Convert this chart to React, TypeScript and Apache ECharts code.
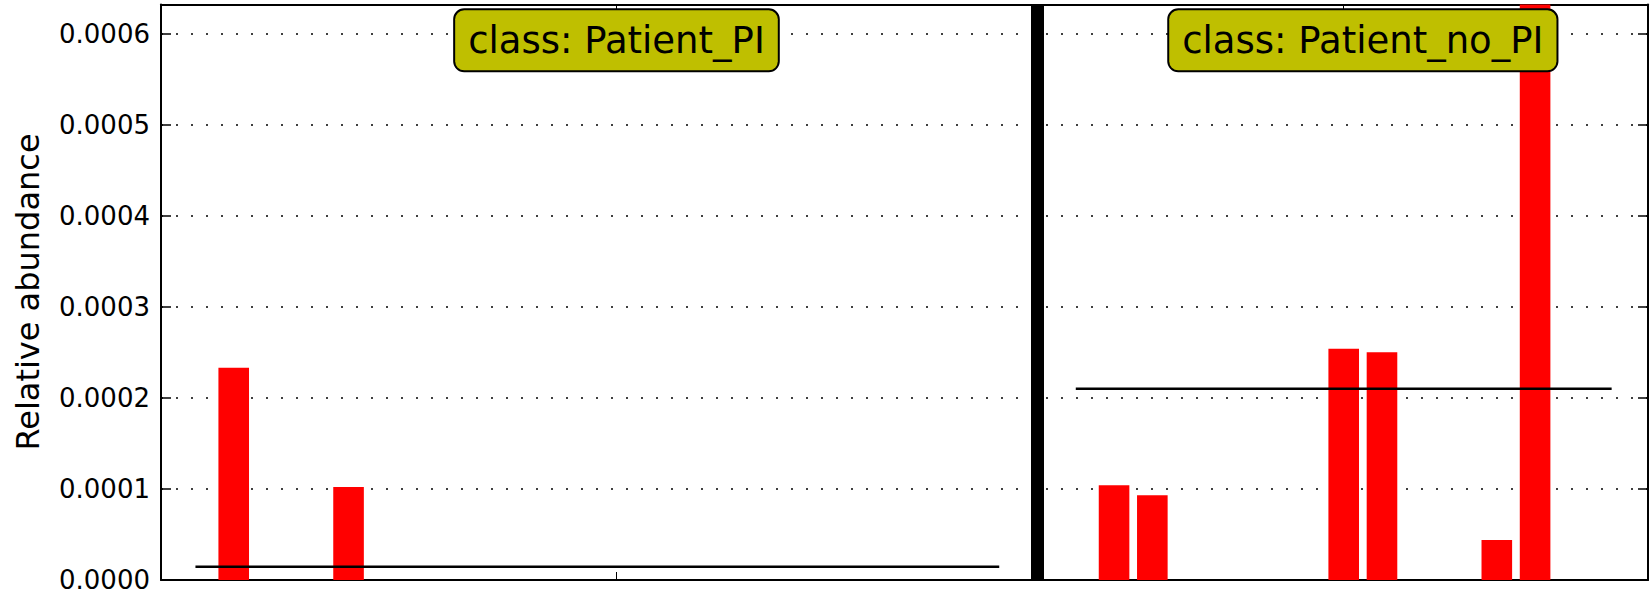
import React, { useEffect, useRef } from "react";
import * as echarts from "echarts";

// ---- data ----
const classNames = ["Patient_PI", "Patient_no_PI"];
// relative abundance per sample, class Patient_PI (22 samples)
const patientPI = [
  0, 0.000233, 0, 0, 0.000102, 0, 0, 0, 0, 0, 0,
  0, 0, 0, 0, 0, 0, 0, 0, 0, 0, 0,
];
// relative abundance per sample, class Patient_no_PI (15 samples)
const patientNoPI = [
  0, 0.000104, 0.000093, 0, 0, 0, 0, 0.000254, 0.00025, 0, 0, 0.000044, 0.0024, 0, 0,
];
// class means (horizontal black lines)
const classMeans = [0.0000146, 0.00021];
const yTicks = [0, 0.0001, 0.0002, 0.0003, 0.0004, 0.0005, 0.0006];
const yMax = 0.000632;

const FONT = '"DejaVu Sans", "Liberation Sans", sans-serif';

export default function App() {
  const ref = useRef<HTMLDivElement>(null);

  useEffect(() => {
    if (!ref.current) return;
    const chart = echarts.init(ref.current, null, { renderer: "svg" });

    const classes = [patientPI, patientNoPI];
    // sample positions: one empty slot between classes for the divider
    const starts: number[] = [];
    let pos = 0;
    classes.forEach((c, i) => {
      starts.push(pos);
      pos += c.length + (i < classes.length - 1 ? 1 : 0);
    });
    const dividerX = starts[1] - 1;
    const barData: [number, number][] = [];
    classes.forEach((c, i) => c.forEach((v, j) => barData.push([starts[i] + j, v])));
    const centers = classes.map((c, i) => starts[i] + c.length / 2);
    const tickVals = centers.map((c) => Math.floor(c));

    const xAxisBase = {
      type: "value" as const,
      min: -0.9,
      max: 37.95,
      splitLine: { show: false },
      axisLabel: { show: false },
      axisLine: { show: true, onZero: false, lineStyle: { color: "#000", width: 2 } },
      axisTick: { show: true, inside: true, length: 8, customValues: tickVals, lineStyle: { color: "#000", width: 1 } },
    };
    const yAxisBase = {
      type: "value" as const,
      min: 0,
      max: yMax,
      interval: 0.0001,
      axisLine: { show: true, onZero: false, lineStyle: { color: "#000", width: 2 } },
      axisTick: { show: true, inside: true, length: 10, customValues: yTicks, lineStyle: { color: "#000", width: 1.5 } },
    };

    const series: any[] = [
      {
        type: "bar",
        data: barData,
        barWidth: 30.6,
        clip: true,
        itemStyle: { color: "#ff0000" },
        markLine: {
          silent: true,
          symbol: ["none", "none"],
          label: { show: false },
          lineStyle: { color: "#000", width: 13, type: "solid" },
          data: [{ xAxis: dividerX }],
        },
      },
    ];
    classes.forEach((c, i) => {
      series.push({
        type: "line",
        data: [
          [starts[i], classMeans[i]],
          [starts[i] + c.length - 1, classMeans[i]],
        ],
        showSymbol: false,
        symbol: "none",
        lineStyle: { color: "#000", width: 2.5 },
        z: 5,
      });
    });

    chart.setOption({
      animation: false,
      backgroundColor: "#fff",
      grid: { left: 161, right: 2, top: 4.5, bottom: 13, containLabel: false },
      xAxis: [
        { ...xAxisBase, position: "bottom" },
        { ...xAxisBase, position: "top" },
      ],
      yAxis: [
        {
          ...yAxisBase,
          position: "left",
          splitLine: { show: true, lineStyle: { color: "#000", width: 1.5, type: [2, 13] } },
          axisLabel: {
            show: true,
            margin: 11,
            color: "#000",
            fontSize: 26,
            lineHeight: 22,
            fontFamily: FONT,
            customValues: yTicks,
            formatter: (v: number) => v.toFixed(4),
          },
        },
        {
          ...yAxisBase,
          position: "right",
          splitLine: { show: false },
          axisLabel: { show: false },
        },
      ],
      series,
    });

    const labels = classNames.map((name, i) => {
      const x = chart.convertToPixel({ xAxisIndex: 0 }, centers[i]) as number;
      return {
        type: "text",
        x,
        y: 40.3,
        z: 100,
        style: {
          text: "class: " + name,
          fontSize: 37,
          fontFamily: FONT,
          fill: "#000",
          align: "center",
          verticalAlign: "middle",
          lineHeight: 40,
          backgroundColor: "#bfbf00",
          borderColor: "#000",
          borderWidth: 2,
          borderRadius: 9,
          padding: [10, 13],
        },
      };
    });

    chart.setOption({
      graphic: [
        {
          type: "text",
          x: 28,
          y: 292,
          rotation: Math.PI / 2,
          style: {
            text: "Relative abundance",
            fontSize: 32,
            fontFamily: FONT,
            fill: "#000",
            align: "center",
            verticalAlign: "middle",
          },
        },
        ...labels,
      ],
    });

    return () => chart.dispose();
  }, []);

  return (
    <div
      ref={ref}
      style={{ position: "fixed", left: 0, top: 0, width: 1650, height: 593 }}
    />
  );
}
